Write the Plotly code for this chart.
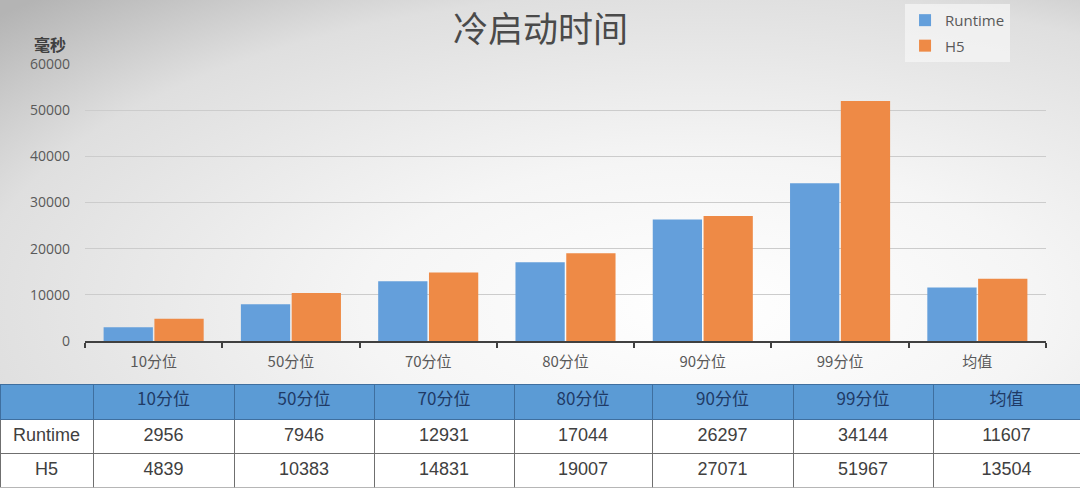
import plotly.graph_objects as go

categories = ["10分位", "50分位", "70分位", "80分位", "90分位", "99分位", "均值"]
runtime = [2956, 7946, 12931, 17044, 26297, 34144, 11607]
h5 = [4839, 10383, 14831, 19007, 27071, 51967, 13504]
series_names = ["Runtime", "H5"]
y_ticks = [0, 10000, 20000, 30000, 40000, 50000, 60000]

W, H = 1080, 488
BLUE = "#649fdb"
ORANGE = "#ee8a46"
CJK = "Noto Sans CJK SC"

fig = go.Figure()

# background gradient panel (chart area above the table)
fig.add_trace(go.Scatter(
    x=[-0.25, 1.55, 1.55, -0.25, -0.25],
    y=[-0.9, -0.9, 1.3, 1.3, -0.9],
    mode="lines", line=dict(width=0), fill="toself",
    fillgradient=dict(type="radial",
                      colorscale=[[0, "#ffffff"], [0.35, "#f5f5f5"], [0.75, "#dfdfdf"], [1, "#b4b4b4"]]),
    hoverinfo="skip", showlegend=False, xaxis="x", yaxis="y",
))

fig.add_trace(go.Bar(name=series_names[0], x=categories, y=runtime, marker_color=BLUE,
                     marker_line_width=0, xaxis="x2", yaxis="y2", legendgroup="a"))
fig.add_trace(go.Bar(name=series_names[1], x=categories, y=h5, marker_color=ORANGE,
                     marker_line_width=0, xaxis="x2", yaxis="y2", legendgroup="b"))

# data table
header_vals = [""] + categories
col_vals = [series_names] + [[r, h] for r, h in zip(runtime, h5)]
fig.add_trace(go.Table(
    domain=dict(x=[0, 1], y=[0, 0.212]),
    columnwidth=[93, 141, 140, 140, 138, 141, 140, 147],
    header=dict(values=header_vals, fill_color="#5b9bd5", height=35,
                line=dict(color="#3f6f9f", width=1), align="center",
                font=dict(family=CJK, size=17, color="#1f3a66")),
    cells=dict(values=col_vals, fill_color="#ffffff", height=34,
               line=dict(color="#6f6f6f", width=1), align="center",
               font=dict(family="Liberation Sans, Arial, sans-serif", size=18, color="#404040")),
))

fig.update_layout(
    width=W, height=H,
    margin=dict(l=0, r=0, t=0, b=0, autoexpand=False),
    paper_bgcolor="#ffffff",
    plot_bgcolor="rgba(0,0,0,0)",
    barmode="group", bargap=0.26, bargroupgap=0.03,
    showlegend=True,
    legend=dict(x=0.838, y=0.992, xanchor="left", yanchor="top",
                bgcolor="rgba(246,246,246,0.7)", borderwidth=0,
                font=dict(family="Open Sans, DejaVu Sans", size=15, color="#595959"),
                traceorder="grouped", tracegroupgap=3, itemwidth=30),
    xaxis=dict(domain=[0, 1], range=[0, 1], visible=False, fixedrange=True),
    yaxis=dict(domain=[0.212, 1], range=[0, 1], visible=False, fixedrange=True),
    xaxis2=dict(domain=[85 / W, 1046 / W], anchor="y2",
                showline=True, linecolor="#404040", linewidth=2,
                ticks="outside", tickson="boundaries", ticklen=5, tickcolor="#404040", tickwidth=2,
                tickfont=dict(family=CJK, size=15, color="#595959"),
                ticklabelstandoff=6, showgrid=False),
    yaxis2=dict(domain=[1 - 341 / H, 1 - 64 / H], anchor="x2", range=[0, 60000],
                tickvals=y_ticks, tickformat="d",
                tickfont=dict(family="Open Sans, DejaVu Sans", size=14, color="#595959"),
                showgrid=True, gridcolor="#cccccc", gridwidth=1,
                zeroline=False, showline=False, ticks="", ticklabelstandoff=14),
    annotations=[
        dict(text="冷启动时间", x=0.5, y=1 - 26 / H, xref="paper", yref="paper",
             xanchor="center", yanchor="middle", showarrow=False,
             font=dict(family=CJK, size=35, color="#4a4a4a")),
        dict(text="<b>毫秒</b>", x=50 / W, y=1 - 44 / H, xref="paper", yref="paper",
             xanchor="center", yanchor="middle", showarrow=False,
             font=dict(family=CJK, size=16, color="#404040")),
    ],
)

fig.write_html("out.html", config={"displayModeBar": False},
               post_script="document.body.style.margin='0px';document.body.style.overflow='hidden';")
